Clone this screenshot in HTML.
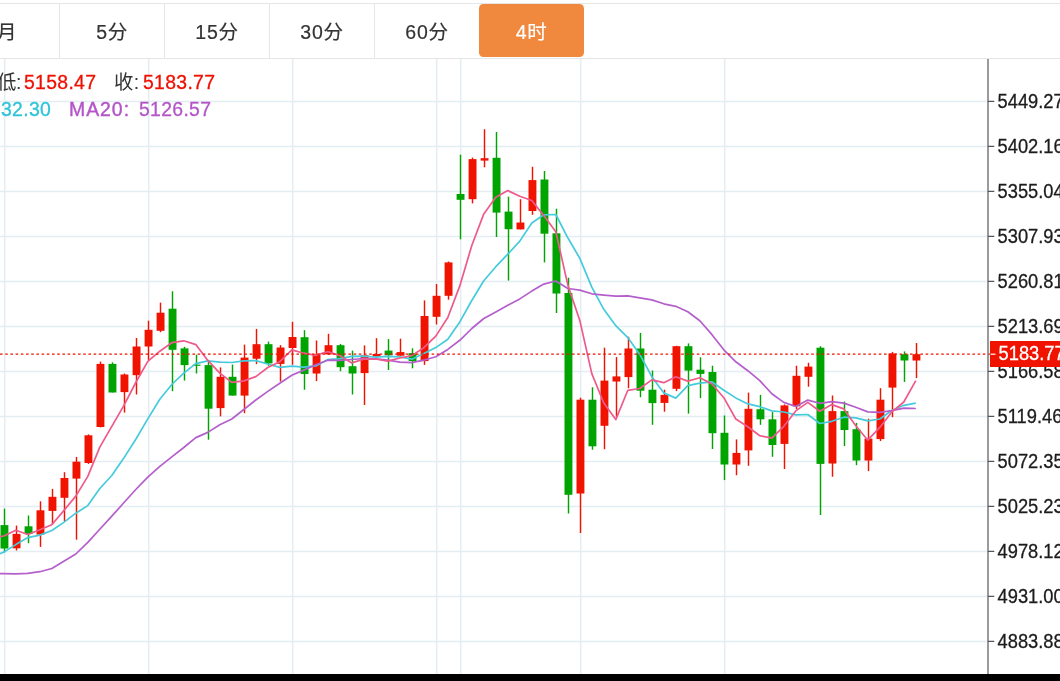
<!DOCTYPE html>
<html><head><meta charset="utf-8"><title>K</title>
<style>
html,body{margin:0;padding:0;background:#fff;}
body{width:1060px;height:681px;position:relative;overflow:hidden;font-family:"Liberation Sans","Noto Sans CJK SC",sans-serif;}
.ax{font-family:"Liberation Sans",sans-serif;font-size:18.3px;fill:#1c1c1c;stroke:#1c1c1c;stroke-width:0.28px;}
.tabs{position:absolute;left:0;top:3px;width:1060px;height:54px;border-top:1px solid #e6e6e6;border-bottom:1px solid #e6e6e6;background:#fff;}
.tab{position:absolute;top:0;height:54px;line-height:57px;width:104px;text-align:center;font-size:19.5px;letter-spacing:0.7px;color:#333;-webkit-text-stroke:0.2px currentColor;border-right:1px solid #e6e6e6;}
.tab.on{background:#f0883e;color:#fff;border:none;border-radius:4.5px;width:105px;top:0.3px;height:53.2px;line-height:56.4px;}
.t{position:absolute;white-space:nowrap;font-size:19.4px;line-height:24px;letter-spacing:0.32px;will-change:transform;-webkit-text-stroke:0.3px currentColor;}
.c{-webkit-text-stroke:0 !important;}
.tabs{will-change:transform;}
</style></head><body>
<svg width="1060" height="681" viewBox="0 0 1060 681" style="position:absolute;left:0;top:0;will-change:transform">
<path d="M0 101.4H988M0 146.4H988M0 191.4H988M0 236.4H988M0 281.4H988M0 326.4H988M0 371.4H988M0 416.4H988M0 461.4H988M0 506.4H988M0 551.4H988M0 596.4H988M0 641.4H988M4.70 59V674M148.70 59V674M292.70 59V674M436.70 59V674M460.70 59V674M580.70 59V674M724.70 59V674" stroke="#e4edf4" stroke-width="1.5" fill="none"/>
<path d="M4.5 508.6V552.5" stroke="#00a400" stroke-width="1.45"/>
<rect x="0.5" y="525.1" width="7.9" height="23.4" fill="#00a400"/>
<path d="M16.5 525.6V550.5" stroke="#ef1300" stroke-width="1.45"/>
<rect x="12.6" y="533.9" width="7.9" height="14.4" fill="#ef1300"/>
<path d="M28.5 515.5V543.2" stroke="#00a400" stroke-width="1.45"/>
<rect x="24.6" y="526.3" width="7.9" height="7.6" fill="#00a400"/>
<path d="M40.5 501.3V546.9" stroke="#ef1300" stroke-width="1.45"/>
<rect x="36.5" y="510.3" width="7.9" height="24.3" fill="#ef1300"/>
<path d="M52.5 488.9V524.2" stroke="#ef1300" stroke-width="1.45"/>
<rect x="48.5" y="496.8" width="7.9" height="14.1" fill="#ef1300"/>
<path d="M64.5 472.2V521.2" stroke="#ef1300" stroke-width="1.45"/>
<rect x="60.5" y="478.0" width="7.9" height="19.8" fill="#ef1300"/>
<path d="M76.5 456.9V539.7" stroke="#ef1300" stroke-width="1.45"/>
<rect x="72.5" y="461.7" width="7.9" height="16.9" fill="#ef1300"/>
<path d="M88.5 434.4V463.9" stroke="#ef1300" stroke-width="1.45"/>
<rect x="84.5" y="435.3" width="7.9" height="27.7" fill="#ef1300"/>
<path d="M100.5 361.6V427.4" stroke="#ef1300" stroke-width="1.45"/>
<rect x="96.5" y="363.9" width="7.9" height="63.1" fill="#ef1300"/>
<path d="M112.5 362.3V392.5" stroke="#00a400" stroke-width="1.45"/>
<rect x="108.5" y="363.9" width="7.9" height="28.6" fill="#00a400"/>
<path d="M124.5 373.5V412.6" stroke="#ef1300" stroke-width="1.45"/>
<rect x="120.5" y="374.5" width="7.9" height="17.6" fill="#ef1300"/>
<path d="M136.5 338.0V394.5" stroke="#ef1300" stroke-width="1.45"/>
<rect x="132.6" y="346.5" width="7.9" height="28.7" fill="#ef1300"/>
<path d="M148.5 320.7V359.9" stroke="#ef1300" stroke-width="1.45"/>
<rect x="144.6" y="329.8" width="7.9" height="16.7" fill="#ef1300"/>
<path d="M160.5 302.6V332.2" stroke="#ef1300" stroke-width="1.45"/>
<rect x="156.6" y="312.7" width="7.9" height="18.1" fill="#ef1300"/>
<path d="M172.5 291.3V391.2" stroke="#00a400" stroke-width="1.45"/>
<rect x="168.6" y="308.7" width="7.9" height="41.1" fill="#00a400"/>
<path d="M184.5 346.8V380.6" stroke="#00a400" stroke-width="1.45"/>
<rect x="180.6" y="348.4" width="7.9" height="16.7" fill="#00a400"/>
<path d="M196.5 354.7V373.5" stroke="#00a400" stroke-width="1.45"/>
<rect x="192.6" y="364.6" width="7.9" height="1.2" fill="#00a400"/>
<path d="M208.5 359.9V439.7" stroke="#00a400" stroke-width="1.45"/>
<rect x="204.6" y="365.1" width="7.9" height="43.6" fill="#00a400"/>
<path d="M220.5 367.4V416.3" stroke="#ef1300" stroke-width="1.45"/>
<rect x="216.6" y="376.8" width="7.9" height="31.3" fill="#ef1300"/>
<path d="M232.5 364.6V395.6" stroke="#00a400" stroke-width="1.45"/>
<rect x="228.6" y="376.8" width="7.9" height="18.8" fill="#00a400"/>
<path d="M244.5 344.6V413.2" stroke="#ef1300" stroke-width="1.45"/>
<rect x="240.6" y="357.6" width="7.9" height="38.0" fill="#ef1300"/>
<path d="M256.5 328.9V364.1" stroke="#ef1300" stroke-width="1.45"/>
<rect x="252.6" y="344.2" width="7.9" height="14.5" fill="#ef1300"/>
<path d="M268.5 341.6V365.8" stroke="#00a400" stroke-width="1.45"/>
<rect x="264.6" y="344.2" width="7.9" height="19.2" fill="#00a400"/>
<path d="M280.5 345.1V381.5" stroke="#ef1300" stroke-width="1.45"/>
<rect x="276.6" y="347.5" width="7.9" height="16.4" fill="#ef1300"/>
<path d="M292.5 321.8V364.8" stroke="#ef1300" stroke-width="1.45"/>
<rect x="288.6" y="337.0" width="7.9" height="11.0" fill="#ef1300"/>
<path d="M304.5 330.2V389.7" stroke="#00a400" stroke-width="1.45"/>
<rect x="300.6" y="337.2" width="7.9" height="36.8" fill="#00a400"/>
<path d="M316.5 340.5V381.1" stroke="#ef1300" stroke-width="1.45"/>
<rect x="312.6" y="354.4" width="7.9" height="19.1" fill="#ef1300"/>
<path d="M328.5 333.8V354.4" stroke="#ef1300" stroke-width="1.45"/>
<rect x="324.6" y="345.2" width="7.9" height="9.2" fill="#ef1300"/>
<path d="M340.5 343.9V371.2" stroke="#00a400" stroke-width="1.45"/>
<rect x="336.6" y="345.2" width="7.9" height="22.0" fill="#00a400"/>
<path d="M352.5 350.6V394.5" stroke="#00a400" stroke-width="1.45"/>
<rect x="348.6" y="366.2" width="7.9" height="7.3" fill="#00a400"/>
<path d="M364.5 345.4V405.0" stroke="#ef1300" stroke-width="1.45"/>
<rect x="360.6" y="355.3" width="7.9" height="17.8" fill="#ef1300"/>
<path d="M376.5 338.2V356.8" stroke="#ef1300" stroke-width="1.45"/>
<rect x="372.6" y="354.0" width="7.9" height="2.8" fill="#ef1300"/>
<path d="M388.5 339.1V370.0" stroke="#00a400" stroke-width="1.45"/>
<rect x="384.6" y="350.6" width="7.9" height="4.7" fill="#00a400"/>
<path d="M400.5 338.7V355.7" stroke="#ef1300" stroke-width="1.45"/>
<rect x="396.6" y="352.1" width="7.9" height="3.6" fill="#ef1300"/>
<path d="M412.5 348.3V368.3" stroke="#00a400" stroke-width="1.45"/>
<rect x="408.6" y="353.1" width="7.9" height="8.0" fill="#00a400"/>
<path d="M424.5 300.4V364.9" stroke="#ef1300" stroke-width="1.45"/>
<rect x="420.6" y="316.0" width="7.9" height="45.1" fill="#ef1300"/>
<path d="M436.5 284.0V324.5" stroke="#ef1300" stroke-width="1.45"/>
<rect x="432.6" y="295.8" width="7.9" height="21.0" fill="#ef1300"/>
<path d="M448.5 261.5V299.7" stroke="#ef1300" stroke-width="1.45"/>
<rect x="444.6" y="262.4" width="7.9" height="33.4" fill="#ef1300"/>
<path d="M460.5 154.7V239.3" stroke="#00a400" stroke-width="1.45"/>
<rect x="456.6" y="194.0" width="7.9" height="5.8" fill="#00a400"/>
<path d="M472.5 157.6V203.4" stroke="#ef1300" stroke-width="1.45"/>
<rect x="468.6" y="159.1" width="7.9" height="40.1" fill="#ef1300"/>
<path d="M484.5 129.2V167.3" stroke="#ef1300" stroke-width="1.45"/>
<rect x="480.6" y="158.2" width="7.9" height="2.4" fill="#ef1300"/>
<path d="M496.5 132.0V237.0" stroke="#00a400" stroke-width="1.45"/>
<rect x="492.6" y="157.8" width="7.9" height="54.8" fill="#00a400"/>
<path d="M508.5 196.7V280.6" stroke="#00a400" stroke-width="1.45"/>
<rect x="504.6" y="211.6" width="7.9" height="17.6" fill="#00a400"/>
<path d="M520.5 199.2V229.4" stroke="#ef1300" stroke-width="1.45"/>
<rect x="516.5" y="222.5" width="7.9" height="6.9" fill="#ef1300"/>
<path d="M532.5 166.8V214.8" stroke="#ef1300" stroke-width="1.45"/>
<rect x="528.5" y="180.1" width="7.9" height="30.9" fill="#ef1300"/>
<path d="M544.5 171.0V262.4" stroke="#00a400" stroke-width="1.45"/>
<rect x="540.5" y="179.5" width="7.9" height="54.2" fill="#00a400"/>
<path d="M556.5 208.7V313.0" stroke="#00a400" stroke-width="1.45"/>
<rect x="552.5" y="233.3" width="7.9" height="60.2" fill="#00a400"/>
<path d="M568.5 277.7V513.5" stroke="#00a400" stroke-width="1.45"/>
<rect x="564.5" y="293.0" width="7.9" height="201.8" fill="#00a400"/>
<path d="M580.5 397.7V533.0" stroke="#ef1300" stroke-width="1.45"/>
<rect x="576.5" y="399.7" width="7.9" height="93.8" fill="#ef1300"/>
<path d="M592.5 387.3V449.7" stroke="#00a400" stroke-width="1.45"/>
<rect x="588.5" y="399.7" width="7.9" height="46.6" fill="#00a400"/>
<path d="M604.5 347.7V449.2" stroke="#ef1300" stroke-width="1.45"/>
<rect x="600.5" y="380.6" width="7.9" height="45.2" fill="#ef1300"/>
<path d="M616.5 357.1V416.8" stroke="#ef1300" stroke-width="1.45"/>
<rect x="612.5" y="376.4" width="7.9" height="5.1" fill="#ef1300"/>
<path d="M628.5 336.7V388.2" stroke="#ef1300" stroke-width="1.45"/>
<rect x="624.5" y="348.5" width="7.9" height="28.6" fill="#ef1300"/>
<path d="M640.5 332.9V397.2" stroke="#00a400" stroke-width="1.45"/>
<rect x="636.5" y="348.5" width="7.9" height="42.2" fill="#00a400"/>
<path d="M652.5 370.5V424.8" stroke="#00a400" stroke-width="1.45"/>
<rect x="648.5" y="389.7" width="7.9" height="13.4" fill="#00a400"/>
<path d="M664.5 389.7V411.7" stroke="#ef1300" stroke-width="1.45"/>
<rect x="660.5" y="394.9" width="7.9" height="8.0" fill="#ef1300"/>
<path d="M676.5 345.8V391.1" stroke="#ef1300" stroke-width="1.45"/>
<rect x="672.5" y="346.2" width="7.9" height="42.6" fill="#ef1300"/>
<path d="M688.5 343.4V413.6" stroke="#00a400" stroke-width="1.45"/>
<rect x="684.5" y="346.2" width="7.9" height="24.4" fill="#00a400"/>
<path d="M700.5 357.3V398.1" stroke="#00a400" stroke-width="1.45"/>
<rect x="696.5" y="369.7" width="7.9" height="4.2" fill="#00a400"/>
<path d="M712.5 365.7V449.0" stroke="#00a400" stroke-width="1.45"/>
<rect x="708.5" y="372.0" width="7.9" height="61.2" fill="#00a400"/>
<path d="M724.5 415.5V480.1" stroke="#00a400" stroke-width="1.45"/>
<rect x="720.5" y="432.8" width="7.9" height="31.7" fill="#00a400"/>
<path d="M736.5 439.4V475.2" stroke="#ef1300" stroke-width="1.45"/>
<rect x="732.5" y="452.9" width="7.9" height="11.6" fill="#ef1300"/>
<path d="M748.5 392.6V465.8" stroke="#ef1300" stroke-width="1.45"/>
<rect x="744.5" y="408.8" width="7.9" height="41.6" fill="#ef1300"/>
<path d="M760.5 394.9V424.8" stroke="#00a400" stroke-width="1.45"/>
<rect x="756.5" y="409.2" width="7.9" height="10.1" fill="#00a400"/>
<path d="M772.5 412.1V456.8" stroke="#00a400" stroke-width="1.45"/>
<rect x="768.5" y="419.3" width="7.9" height="25.7" fill="#00a400"/>
<path d="M784.5 404.4V469.0" stroke="#ef1300" stroke-width="1.45"/>
<rect x="780.5" y="405.4" width="7.9" height="38.5" fill="#ef1300"/>
<path d="M796.5 365.7V409.2" stroke="#ef1300" stroke-width="1.45"/>
<rect x="792.5" y="375.8" width="7.9" height="30.5" fill="#ef1300"/>
<path d="M808.5 362.8V386.7" stroke="#ef1300" stroke-width="1.45"/>
<rect x="804.5" y="366.6" width="7.9" height="10.2" fill="#ef1300"/>
<path d="M820.5 346.2V515.0" stroke="#00a400" stroke-width="1.45"/>
<rect x="816.5" y="347.7" width="7.9" height="116.2" fill="#00a400"/>
<path d="M832.5 395.5V476.7" stroke="#ef1300" stroke-width="1.45"/>
<rect x="828.5" y="411.1" width="7.9" height="52.4" fill="#ef1300"/>
<path d="M844.5 401.6V446.0" stroke="#00a400" stroke-width="1.45"/>
<rect x="840.5" y="411.1" width="7.9" height="18.9" fill="#00a400"/>
<path d="M856.5 422.9V465.2" stroke="#00a400" stroke-width="1.45"/>
<rect x="852.5" y="429.2" width="7.9" height="31.3" fill="#00a400"/>
<path d="M868.5 418.7V471.1" stroke="#ef1300" stroke-width="1.45"/>
<rect x="864.5" y="438.6" width="7.9" height="21.9" fill="#ef1300"/>
<path d="M880.5 388.2V441.0" stroke="#ef1300" stroke-width="1.45"/>
<rect x="876.5" y="399.7" width="7.9" height="39.4" fill="#ef1300"/>
<path d="M892.5 351.9V417.2" stroke="#ef1300" stroke-width="1.45"/>
<rect x="888.5" y="353.5" width="7.9" height="34.1" fill="#ef1300"/>
<path d="M904.5 351.4V381.9" stroke="#00a400" stroke-width="1.45"/>
<rect x="900.5" y="354.2" width="7.9" height="6.3" fill="#00a400"/>
<path d="M916.5 343.0V378.1" stroke="#ef1300" stroke-width="1.45"/>
<rect x="912.5" y="354.2" width="7.9" height="6.3" fill="#ef1300"/>
<polyline points="-8.2,557.0 3.8,552.1 15.8,544.6 27.8,537.6 39.8,535.1 51.8,530.5 63.8,522.4 75.8,513.2 87.8,505.6 99.8,488.5 111.8,475.5 123.8,458.1 135.8,439.3 147.8,418.9 159.8,399.2 171.8,384.5 183.8,373.2 195.8,363.6 207.8,360.9 219.8,362.2 231.8,362.5 243.8,360.8 255.8,360.6 267.8,364.0 279.8,367.4 291.8,366.2 303.8,367.1 315.8,365.9 327.8,359.6 339.8,358.6 351.8,356.4 363.8,356.2 375.8,357.1 387.8,356.3 399.8,356.8 411.8,359.2 423.8,353.4 435.8,347.6 447.8,339.3 459.8,321.9 471.8,300.5 483.8,280.8 495.8,266.7 507.8,254.1 519.8,241.1 531.8,223.0 543.8,214.8 555.8,214.5 567.8,237.8 579.8,258.3 591.8,287.1 603.8,309.3 615.8,325.7 627.8,337.6 639.8,354.4 651.8,376.7 663.8,392.9 675.8,398.1 687.8,385.7 699.8,383.1 711.8,381.8 723.8,390.2 735.8,397.9 747.8,403.9 759.8,406.7 771.8,410.9 783.8,412.0 795.8,414.9 807.8,414.5 819.8,423.5 831.8,421.3 843.8,417.2 855.8,417.9 867.8,420.9 879.8,419.0 891.8,410.5 903.8,405.3 915.8,403.2" fill="none" stroke="#45cbdc" stroke-width="1.7" stroke-linejoin="round" stroke-linecap="butt"/>
<polyline points="-8.2,573.4 3.8,573.6 15.8,573.9 27.8,573.3 39.8,571.7 51.8,568.5 63.8,561.3 75.8,554.0 87.8,542.4 99.8,529.2 111.8,516.2 123.8,502.8 135.8,489.5 147.8,477.2 159.8,466.4 171.8,456.9 183.8,447.5 195.8,437.6 207.8,432.4 219.8,424.8 231.8,419.0 243.8,409.5 255.8,400.0 267.8,391.4 279.8,383.3 291.8,375.3 303.8,370.1 315.8,364.8 327.8,360.2 339.8,360.4 351.8,359.5 363.8,358.5 375.8,358.9 387.8,360.2 399.8,362.1 411.8,362.7 423.8,360.2 435.8,356.7 447.8,349.4 459.8,340.3 471.8,328.5 483.8,318.5 495.8,311.9 507.8,305.2 519.8,298.9 531.8,291.1 543.8,284.1 555.8,281.0 567.8,288.5 579.8,290.1 591.8,293.8 603.8,295.1 615.8,296.2 627.8,295.8 639.8,297.8 651.8,299.9 663.8,303.8 675.8,306.3 687.8,311.7 699.8,320.7 711.8,334.4 723.8,349.8 735.8,361.8 747.8,370.7 759.8,380.6 771.8,393.8 783.8,402.4 795.8,406.5 807.8,400.1 819.8,403.3 831.8,401.6 843.8,403.1 855.8,407.3 867.8,411.9 879.8,412.3 891.8,410.7 903.8,408.1 915.8,408.5" fill="none" stroke="#b45fcb" stroke-width="1.7" stroke-linejoin="round" stroke-linecap="butt"/>
<polyline points="-8.2,538.0 3.8,536.0 15.8,530.3 27.8,534.5 39.8,529.8 51.8,524.7 63.8,510.6 75.8,496.1 87.8,476.4 99.8,447.1 111.8,426.3 123.8,405.6 135.8,382.5 147.8,361.4 159.8,351.2 171.8,342.7 183.8,340.8 195.8,344.6 207.8,360.4 219.8,373.2 231.8,382.4 243.8,380.9 255.8,376.6 267.8,367.5 279.8,361.7 291.8,349.9 303.8,353.2 315.8,355.3 327.8,351.6 339.8,355.6 351.8,362.9 363.8,359.1 375.8,359.0 387.8,361.1 399.8,358.0 411.8,355.6 423.8,347.7 435.8,336.1 447.8,317.5 459.8,285.9 471.8,245.5 483.8,213.9 495.8,197.3 507.8,190.6 519.8,196.3 531.8,200.5 543.8,215.6 555.8,231.8 567.8,284.9 579.8,320.4 591.8,373.6 603.8,403.0 615.8,419.6 627.8,390.3 639.8,388.5 651.8,379.9 663.8,382.7 675.8,376.7 687.8,381.1 699.8,377.7 711.8,383.8 723.8,397.7 735.8,419.0 747.8,426.7 759.8,435.7 771.8,438.1 783.8,426.3 795.8,410.9 807.8,402.4 819.8,411.3 831.8,404.6 843.8,408.9 855.8,425.8 867.8,440.2 879.8,427.4 891.8,411.9 903.8,402.0 915.8,380.7" fill="none" stroke="#ee5a8c" stroke-width="1.7" stroke-linejoin="round" stroke-linecap="butt"/>
<path d="M0 354.2H990" stroke="#ef1300" stroke-width="1.3" stroke-dasharray="2.6 2.6" fill="none"/>
<path d="M988.0 59V674" stroke="#6a6a6a" stroke-width="1.35" fill="none"/>
<path d="M988 101.4H994.3M988 146.4H994.3M988 191.4H994.3M988 236.4H994.3M988 281.4H994.3M988 326.4H994.3M988 371.4H994.3M988 416.4H994.3M988 461.4H994.3M988 506.4H994.3M988 551.4H994.3M988 596.4H994.3M988 641.4H994.3" stroke="#555" stroke-width="1.2" fill="none"/>
<text transform="translate(997.6 107.6) scale(1 1.09)" class="ax">5449.27</text>
<text transform="translate(997.6 152.6) scale(1 1.09)" class="ax">5402.16</text>
<text transform="translate(997.6 197.6) scale(1 1.09)" class="ax">5355.04</text>
<text transform="translate(997.6 242.6) scale(1 1.09)" class="ax">5307.93</text>
<text transform="translate(997.6 287.6) scale(1 1.09)" class="ax">5260.81</text>
<text transform="translate(997.6 332.6) scale(1 1.09)" class="ax">5213.69</text>
<text transform="translate(997.6 377.6) scale(1 1.09)" class="ax">5166.58</text>
<text transform="translate(997.6 422.6) scale(1 1.09)" class="ax">5119.46</text>
<text transform="translate(997.6 467.6) scale(1 1.09)" class="ax">5072.35</text>
<text transform="translate(997.6 512.6) scale(1 1.09)" class="ax">5025.23</text>
<text transform="translate(997.6 557.6) scale(1 1.09)" class="ax">4978.12</text>
<text transform="translate(997.6 602.6) scale(1 1.09)" class="ax">4931.00</text>
<text transform="translate(997.6 647.6) scale(1 1.09)" class="ax">4883.88</text>
<rect x="990" y="341" width="70" height="26" fill="#ef1300"/>
<path d="M990.5 354.2H995.5" stroke="#fff" stroke-width="1.2"/>
<text transform="translate(998.6 360.4) scale(1 1.09)" class="ax" style="fill:#fff;stroke:#fff">5183.77</text>
<rect x="0" y="674" width="1060" height="7" fill="#000"/>
</svg>
<div class="tabs">
<div class="tab" style="left:-45px">月</div>
<div class="tab" style="left:60px">5分</div>
<div class="tab" style="left:165px">15分</div>
<div class="tab" style="left:270px">30分</div>
<div class="tab" style="left:375px;border-right:none">60分</div>
<div class="tab on" style="left:479px">4时</div>
</div>
<div class="t c" style="left:-3px;top:70px;color:#333">低</div><div class="t c" style="left:15.6px;top:70px;color:#333">:</div>
<div class="t" style="left:24px;top:70px;color:#ee1100">5158.47</div>
<div class="t c" style="left:114px;top:70px;color:#333">收:</div>
<div class="t" style="left:142.5px;top:70px;color:#ee1100">5183.77</div>
<div class="t" style="left:0.5px;top:97px;color:#2fc4d8">32.30</div>
<div class="t" style="left:69px;top:97px;color:#b455c8;letter-spacing:1.0px;-webkit-text-stroke:0.4px currentColor">MA20:</div>
<div class="t" style="left:138.5px;top:97px;color:#b455c8">5126.57</div>
</body></html>
